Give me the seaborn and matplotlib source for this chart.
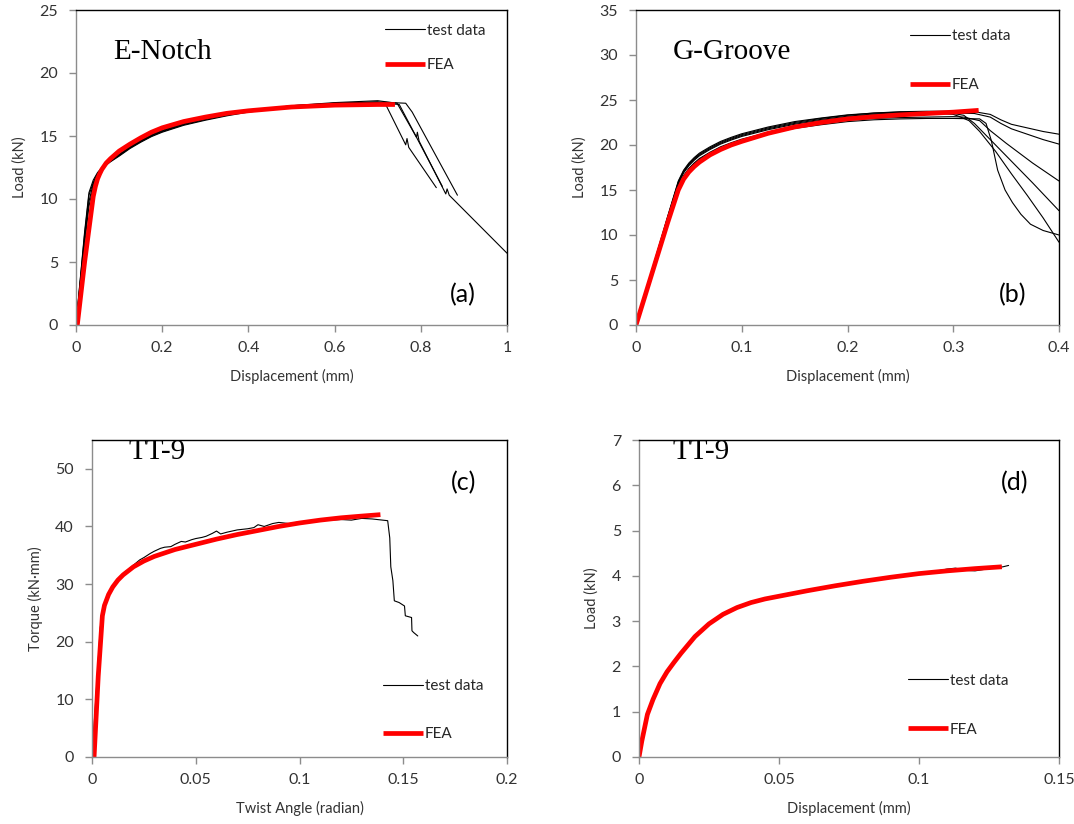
import matplotlib
matplotlib.use("Agg")
import matplotlib.pyplot as plt
import seaborn as sns
from matplotlib.ticker import FuncFormatter, MultipleLocator

# ---------------- Panel (a): E-Notch ----------------
a_pre_x = [0, 0.01, 0.02, 0.03, 0.04, 0.045, 0.05, 0.06, 0.07, 0.08, 0.1, 0.125, 0.15, 0.175, 0.2, 0.25,
           0.3, 0.35, 0.4, 0.5, 0.6, 0.7]
a_pre_y1 = [0, 3.6, 7.2, 10.3, 11.3, 11.7, 12.0, 12.4, 12.8, 13.05, 13.5, 14.1, 14.6, 15.05, 15.4, 15.95,
            16.35, 16.7, 16.95, 17.35, 17.6, 17.7]
a_pre_y2 = [0, 3.4, 6.8, 9.8, 11.2, 11.6, 11.95, 12.4, 12.75, 13.0, 13.45, 14.05, 14.55, 15.0, 15.35, 15.9,
            16.3, 16.65, 16.95, 17.4, 17.65, 17.8]
a_pre_y3 = [0, 3.2, 6.4, 9.4, 11.0, 11.5, 11.9, 12.35, 12.7, 12.95, 13.4, 14.0, 14.5, 14.95, 15.3, 15.85,
            16.25, 16.6, 16.9, 17.3, 17.55, 17.7]
a_pre_y4 = [0, 3.7, 7.4, 10.5, 11.5, 11.8, 12.1, 12.5, 12.85, 13.1, 13.55, 14.15, 14.65, 15.1, 15.45, 16.0,
            16.4, 16.75, 17.0, 17.4, 17.6, 17.65]
a_tail_x1 = [0.72, 0.765, 0.768, 0.772, 0.836]
a_tail_y1 = [17.4, 14.3, 14.8, 14.1, 10.9]
a_tail_x2 = [0.745, 0.79, 0.792, 0.796, 0.858, 0.861, 0.866, 1.0]
a_tail_y2 = [17.6, 14.9, 15.3, 14.6, 10.4, 10.8, 10.3, 5.7]
a_tail_x3 = [0.765, 0.78, 0.885]
a_tail_y3 = [17.6, 16.9, 10.3]
a_tail_x4 = [0.75, 0.85]
a_tail_y4 = [17.5, 11.0]
a_fea_x = [0.003, 0.02, 0.04, 0.045, 0.05, 0.055, 0.06, 0.07, 0.08, 0.1, 0.125, 0.15, 0.175, 0.2, 0.25,
           0.3, 0.35, 0.4, 0.5, 0.6, 0.7, 0.74]
a_fea_y = [0, 5.0, 10.2, 11.0, 11.6, 12.0, 12.35, 12.85, 13.2, 13.8, 14.35, 14.85, 15.3, 15.65, 16.15,
           16.5, 16.8, 17.0, 17.3, 17.45, 17.5, 17.5]

# ---------------- Panel (b): G-Groove ----------------
b_pre_x = [0, 0.01, 0.02, 0.03, 0.04, 0.045, 0.05, 0.055, 0.06, 0.07, 0.08, 0.09, 0.1, 0.125, 0.15,
           0.175, 0.2, 0.225, 0.25, 0.275, 0.3]
b_pre_y1 = [0, 4.0, 8.0, 12.0, 15.9, 17.1, 17.9, 18.5, 19.0, 19.7, 20.3, 20.75, 21.15, 21.9, 22.5,
            22.95, 23.3, 23.55, 23.7, 23.75, 23.75]
b_pre_y2 = [0, 3.95, 7.9, 11.85, 15.7, 16.9, 17.7, 18.3, 18.8, 19.5, 20.1, 20.55, 20.95, 21.7, 22.3,
            22.75, 23.1, 23.35, 23.5, 23.55, 23.55]
b_pre_y3 = [0, 3.9, 7.8, 11.7, 15.5, 16.6, 17.4, 18.0, 18.5, 19.2, 19.8, 20.25, 20.65, 21.4, 22.0,
            22.4, 22.75, 22.95, 23.05, 23.1, 23.15]
b_pre_y4 = [0, 4.0, 7.95, 11.9, 15.8, 17.0, 17.8, 18.4, 18.9, 19.6, 20.2, 20.65, 21.05, 21.8, 22.4,
            22.85, 23.2, 23.45, 23.6, 23.6, 23.5]
b_pre_y5 = [0, 3.85, 7.7, 11.6, 15.4, 16.5, 17.3, 17.9, 18.4, 19.1, 19.7, 20.15, 20.55, 21.3, 21.85,
            22.25, 22.6, 22.8, 22.9, 22.95, 22.95]
b_pre_y6 = [0, 4.05, 8.1, 12.1, 16.0, 17.2, 18.0, 18.6, 19.1, 19.8, 20.4, 20.85, 21.25, 22.0, 22.6,
            23.0, 23.35, 23.55, 23.65, 23.6, 23.4]
b_tail_x1 = [0.32, 0.335, 0.345, 0.355, 0.37, 0.385, 0.4]
b_tail_y1 = [23.7, 23.4, 22.8, 22.3, 21.9, 21.5, 21.2]
b_tail_x2 = [0.32, 0.335, 0.345, 0.355, 0.37, 0.385, 0.4]
b_tail_y2 = [23.5, 23.1, 22.4, 21.8, 21.2, 20.6, 20.1]
b_tail_x3 = [0.31, 0.325, 0.335, 0.35, 0.375, 0.4]
b_tail_y3 = [23.1, 22.7, 21.6, 20.2, 18.0, 16.0]
b_tail_x4 = [0.31, 0.32, 0.335, 0.35, 0.375, 0.4]
b_tail_y4 = [23.3, 22.4, 20.6, 18.8, 15.8, 12.7]
b_tail_x5 = [0.325, 0.331, 0.336, 0.342, 0.349, 0.356, 0.364, 0.373, 0.385, 0.4]
b_tail_y5 = [22.9, 22.4, 20.5, 17.2, 15.0, 13.6, 12.3, 11.2, 10.5, 10.0]
b_tail_x6 = [0.305, 0.315, 0.325, 0.34, 0.355, 0.37, 0.385, 0.4]
b_tail_y6 = [23.2, 22.7, 21.5, 19.3, 16.8, 14.4, 11.9, 9.2]
b_fea_x = [0, 0.01, 0.02, 0.03, 0.04, 0.045, 0.05, 0.055, 0.06, 0.07, 0.08, 0.09, 0.1, 0.125, 0.15,
           0.175, 0.2, 0.225, 0.25, 0.275, 0.3, 0.324]
b_fea_y = [0, 3.8, 7.6, 11.4, 15.0, 16.2, 17.0, 17.6, 18.1, 18.9, 19.5, 20.0, 20.4, 21.3, 22.0,
           22.5, 22.9, 23.15, 23.35, 23.5, 23.65, 23.85]

# ---------------- Panel (c): TT-9 torque ----------------
c_test_x = [0, 0.002, 0.004, 0.005, 0.006, 0.008, 0.01, 0.012, 0.015, 0.018, 0.02, 0.023, 0.025, 0.028,
            0.03, 0.033, 0.035, 0.038, 0.04, 0.043, 0.045, 0.048, 0.05, 0.053, 0.055, 0.058, 0.06, 0.062,
            0.065, 0.07, 0.075, 0.078, 0.08, 0.083, 0.087, 0.09, 0.095, 0.1, 0.105, 0.11, 0.115, 0.12,
            0.125, 0.13, 0.135, 0.14, 0.1425, 0.1435, 0.144, 0.145, 0.1457, 0.148, 0.1506, 0.151, 0.154,
            0.1542, 0.155, 0.157]
c_test_y = [0, 11.0, 22.5, 24.8, 26.3, 28.3, 29.7, 30.7, 31.8, 32.7, 33.3, 34.2, 34.6, 35.3,
            35.7, 36.2, 36.4, 36.5, 36.9, 37.4, 37.3, 37.7, 37.9, 38.1, 38.3, 38.8, 39.2, 38.7,
            39.0, 39.4, 39.6, 39.8, 40.3, 40.0, 40.5, 40.7, 40.5, 40.8, 40.9, 41.0, 41.1, 41.2,
            41.1, 41.4, 41.3, 41.1, 41.0, 38.0, 33.0, 30.6, 27.1, 26.8, 26.2, 24.5, 24.2,
            21.9, 21.6, 21.0]
c_fea_x = [0.001, 0.003, 0.005, 0.006, 0.008, 0.01, 0.0125, 0.015, 0.02, 0.025, 0.03, 0.04, 0.05,
           0.06, 0.07, 0.08, 0.09, 0.1, 0.11, 0.12, 0.13, 0.139]
c_fea_y = [0, 14.0, 24.5, 26.3, 28.2, 29.5, 30.7, 31.6, 33.0, 34.0, 34.8, 36.0, 36.9,
           37.8, 38.6, 39.3, 40.0, 40.6, 41.1, 41.5, 41.8, 42.05]

# ---------------- Panel (d): TT-9 load ----------------
d_test_x = [0, 0.001, 0.003, 0.005, 0.0075, 0.01, 0.0125, 0.015, 0.02, 0.025, 0.03, 0.035, 0.04, 0.045,
            0.05, 0.053, 0.056, 0.06, 0.07, 0.08, 0.09, 0.1, 0.105, 0.11, 0.113, 0.117, 0.12, 0.125,
            0.13, 0.132]
d_test_y = [0, 0.35, 0.94, 1.27, 1.62, 1.88, 2.09, 2.29, 2.66, 2.94, 3.15, 3.3, 3.41, 3.5,
            3.56, 3.61, 3.62, 3.68, 3.79, 3.88, 3.97, 4.05, 4.09, 4.15, 4.17, 4.12, 4.11, 4.16,
            4.2, 4.23]
d_fea_x = [0, 0.001, 0.003, 0.005, 0.0075, 0.01, 0.0125, 0.015, 0.02, 0.025, 0.03, 0.035, 0.04, 0.045,
           0.05, 0.06, 0.07, 0.08, 0.09, 0.1, 0.11, 0.12, 0.1296]
d_fea_y = [0, 0.35, 0.94, 1.27, 1.62, 1.88, 2.09, 2.29, 2.66, 2.94, 3.15, 3.3, 3.41, 3.49,
           3.55, 3.67, 3.78, 3.88, 3.97, 4.05, 4.11, 4.16, 4.2]

legend_labels = ["test data", "FEA"]

sns.set_theme(style="ticks")
plt.rcParams['font.family'] = ['Lato', 'DejaVu Sans']

fig = plt.figure(figsize=(10.74, 8.24), dpi=100)
W, H = 1074, 824


def make_ax(l, r, t, b):
    return fig.add_axes([l / W, 1 - b / H, (r - l) / W, (b - t) / H])


fmt = FuncFormatter(lambda v, p: f"{v:g}")


def panel(ax, tests, fea, xlim, ylim, xstep, ystep, xlabel, ylabel, title, title_xy,
          tag, tag_xy, leg_xy, leg_space):
    test_line = None
    for tx, ty in tests:
        sns.lineplot(x=tx, y=ty, ax=ax, color="black", linewidth=0.8, sort=False, estimator=None)
        test_line = ax.lines[-1]
    sns.lineplot(x=fea[0], y=fea[1], ax=ax, color="#ff0000", linewidth=3.4, sort=False,
                 estimator=None, solid_capstyle="butt")
    fea_line = ax.lines[-1]
    ax.set_xlim(*xlim)
    ax.set_ylim(*ylim)
    ax.xaxis.set_major_locator(MultipleLocator(xstep))
    ax.yaxis.set_major_locator(MultipleLocator(ystep))
    ax.xaxis.set_major_formatter(fmt)
    ax.yaxis.set_major_formatter(fmt)
    ax.tick_params(axis="both", direction="out", length=5, width=1, color="#8c8c8c",
                   labelsize=11.5, labelcolor="#333333")
    ax.tick_params(axis="y", pad=8)
    ax.tick_params(axis="x", pad=6.5)
    for s in ["left", "bottom"]:
        ax.spines[s].set_color("#8c8c8c")
        ax.spines[s].set_linewidth(1.0)
    for s in ["top", "right"]:
        ax.spines[s].set_color("#000000")
        ax.spines[s].set_linewidth(1.0)
        ax.spines[s].set_visible(True)
    ax.set_xlabel(xlabel, fontsize=10.5, color="#333333", labelpad=10)
    ax.set_ylabel(ylabel, fontsize=10.5, color="#333333", labelpad=9)
    ax.text(title_xy[0], title_xy[1], title, transform=ax.transAxes, fontsize=21,
            family="Liberation Serif", va="center", ha="left", color="black")
    ax.text(tag_xy[0], tag_xy[1], tag, transform=ax.transAxes, fontsize=18,
            va="center", ha="right", color="black")
    ax.legend(handles=[test_line, fea_line], labels=legend_labels, loc="upper left",
              bbox_to_anchor=leg_xy, frameon=False, fontsize=11, handlelength=2.6,
              handletextpad=0.15, labelspacing=leg_space, borderpad=0, borderaxespad=0)


ax_a = make_ax(76, 507, 10, 325)
ax_b = make_ax(636, 1059, 10, 325)
ax_c = make_ax(92, 507, 440, 757)
ax_d = make_ax(639, 1059, 440, 757)

a_tests = [(a_pre_x + a_tail_x1, a_pre_y1 + a_tail_y1), (a_pre_x + a_tail_x2, a_pre_y2 + a_tail_y2),
           (a_pre_x + a_tail_x3, a_pre_y3 + a_tail_y3), (a_pre_x + a_tail_x4, a_pre_y4 + a_tail_y4)]
b_tests = [(b_pre_x + b_tail_x1, b_pre_y1 + b_tail_y1), (b_pre_x + b_tail_x2, b_pre_y2 + b_tail_y2),
           (b_pre_x + b_tail_x3, b_pre_y3 + b_tail_y3), (b_pre_x + b_tail_x4, b_pre_y4 + b_tail_y4),
           (b_pre_x + b_tail_x5, b_pre_y5 + b_tail_y5), (b_pre_x + b_tail_x6, b_pre_y6 + b_tail_y6)]

panel(ax_a, a_tests, (a_fea_x, a_fea_y), (0, 1), (0, 25), 0.2, 5, "Displacement (mm)", "Load (kN)",
      "E-Notch", (0.086, 0.867), "(a)", (0.928, 0.095), (0.717, 0.957), 1.35)
panel(ax_b, b_tests, (b_fea_x, b_fea_y), (0, 0.4), (0, 35), 0.1, 5, "Displacement (mm)", "Load (kN)",
      "G-Groove", (0.087, 0.867), "(b)", (0.924, 0.095), (0.648, 0.94), 2.3)
panel(ax_c, [(c_test_x, c_test_y)], (c_fea_x, c_fea_y), (0, 0.2), (0, 55), 0.05, 10,
      "Twist Angle (radian)", "Torque (kN\u00b7mm)",
      "TT-9", (0.087, 0.962), "(c)", (0.925, 0.864), (0.701, 0.245), 2.2)
panel(ax_d, [(d_test_x, d_test_y)], (d_fea_x, d_fea_y), (0, 0.15), (0, 7), 0.05, 1,
      "Displacement (mm)", "Load (kN)",
      "TT-9", (0.079, 0.962), "(d)", (0.928, 0.864), (0.640, 0.263), 2.3)

fig.savefig("out.png", dpi=100)
